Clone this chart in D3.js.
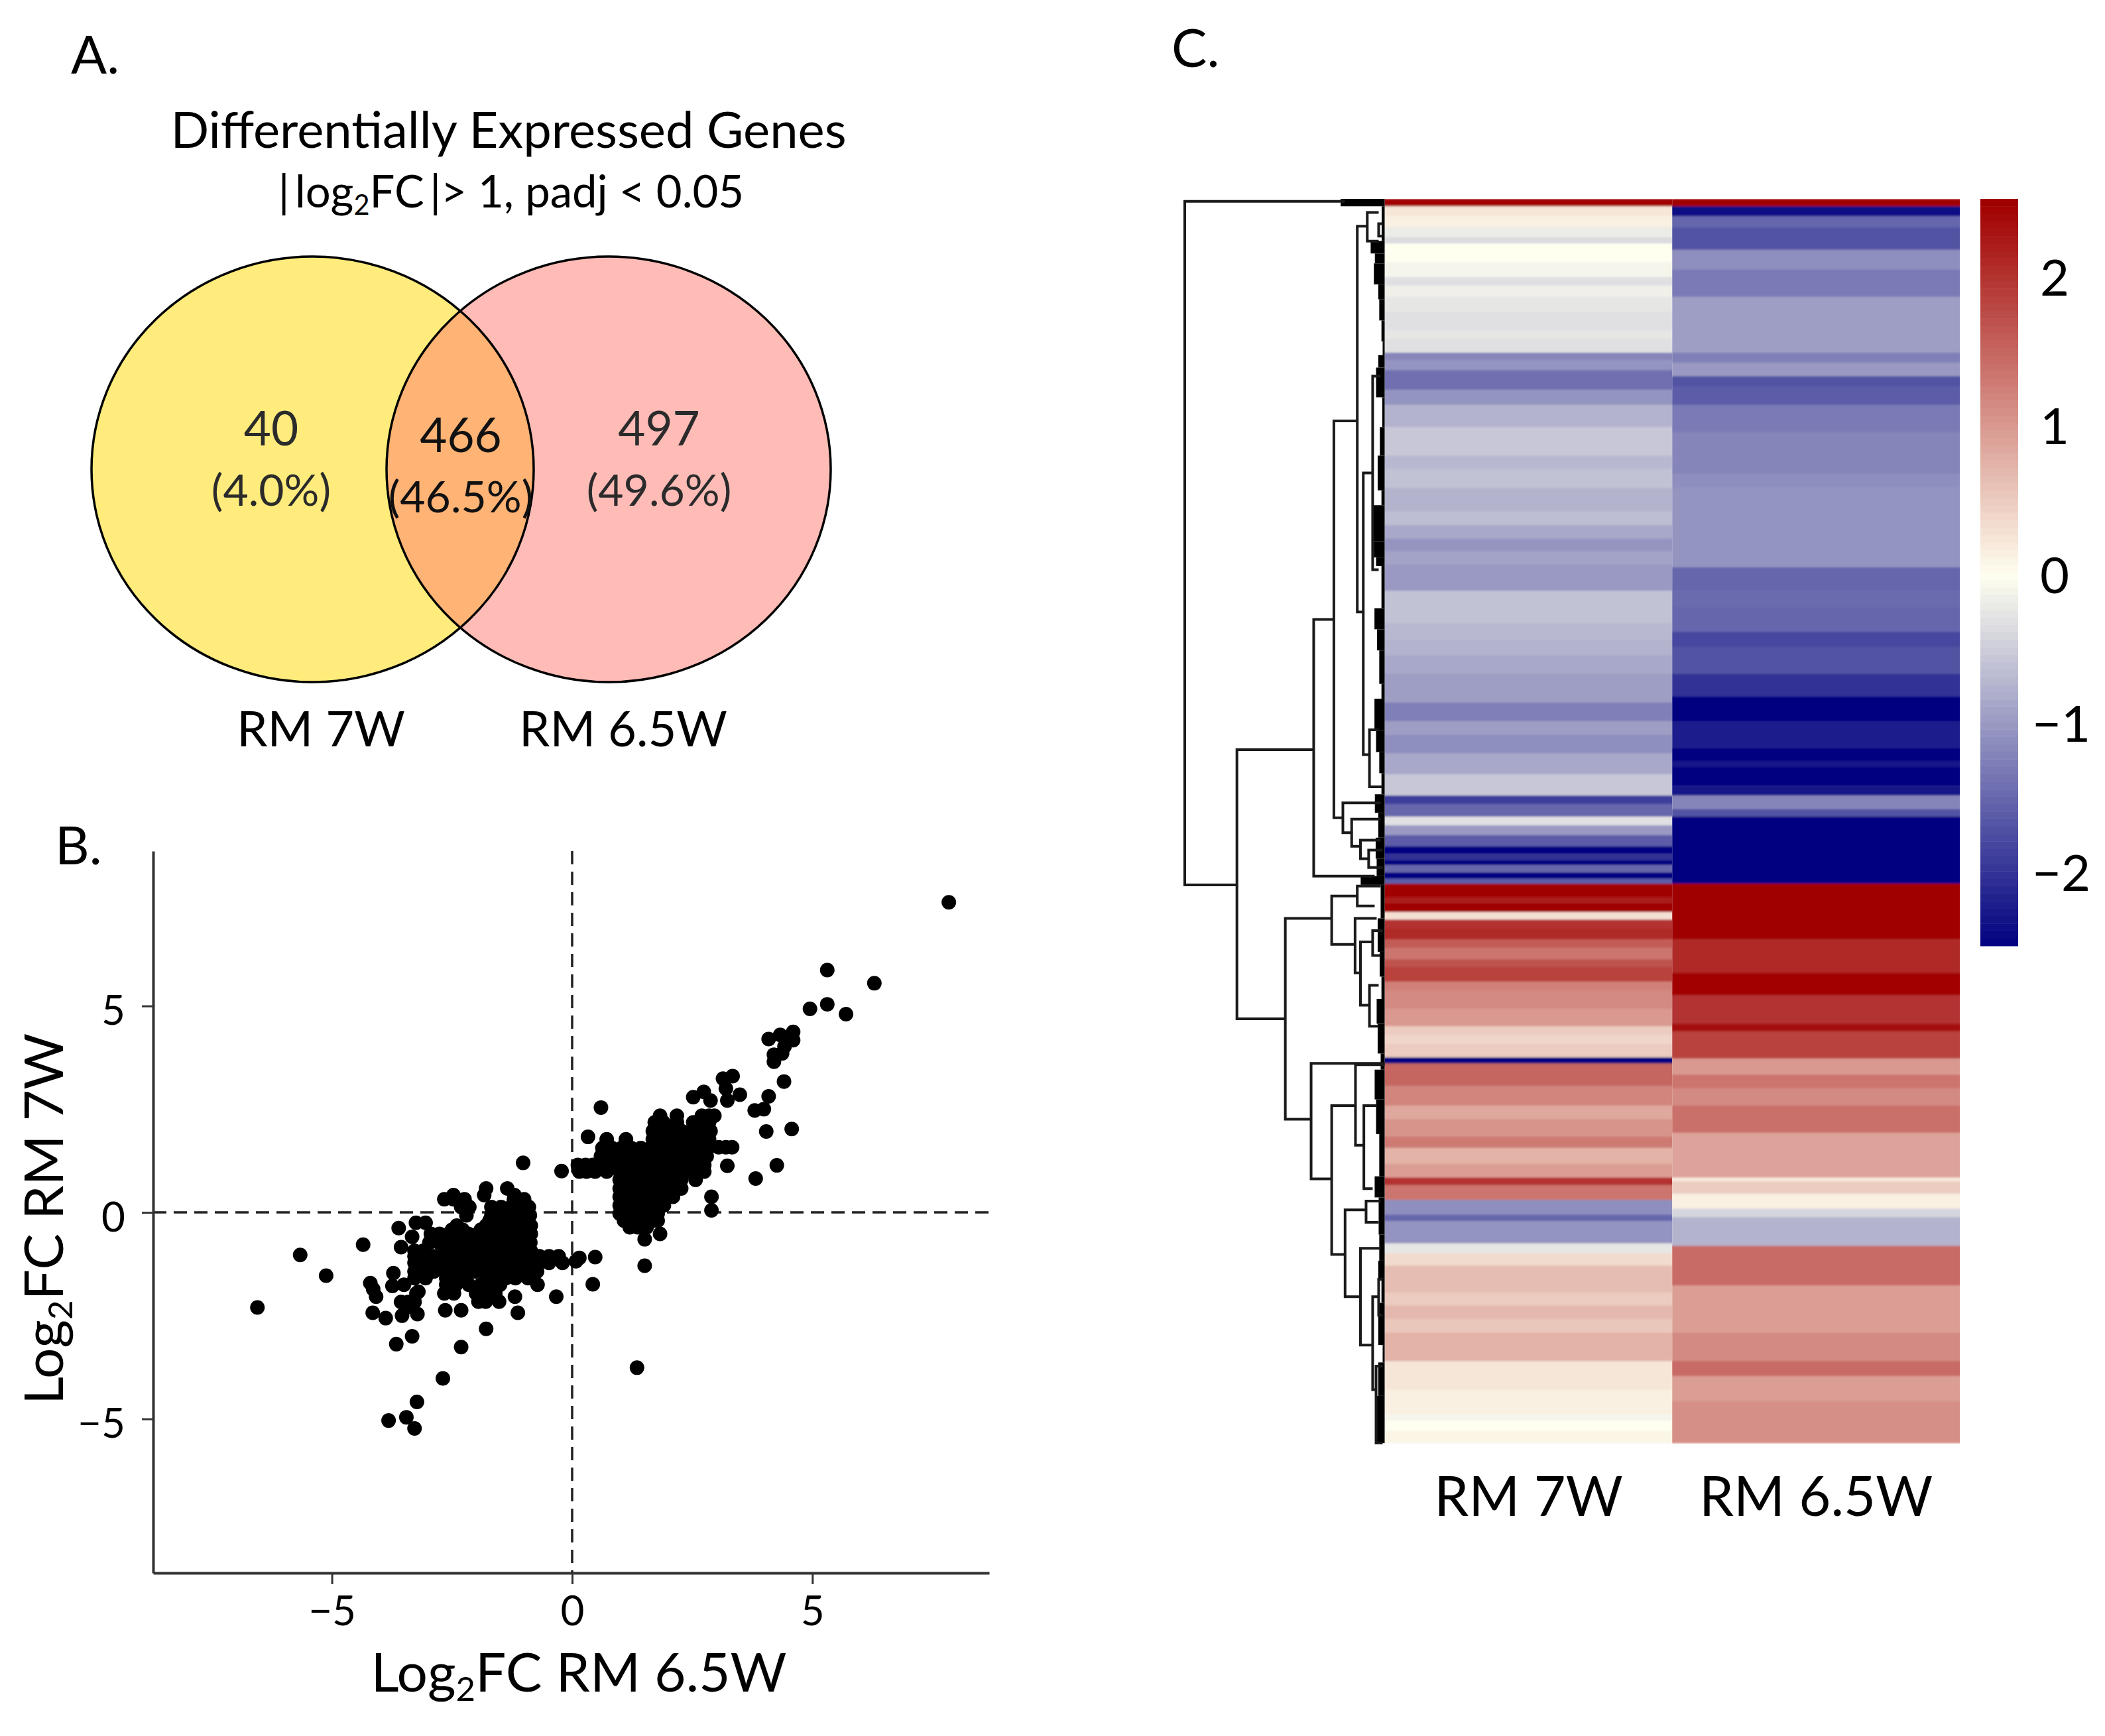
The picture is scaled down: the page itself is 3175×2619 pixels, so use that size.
<!DOCTYPE html>
<html>
<head>
<meta charset="utf-8">
<script src="https://d3js.org/d3.v7.min.js"></script>
<style>
  body { margin: 0; background: #fff; }
  text { font-family: Lato, "Open Sans", sans-serif; fill: #000; }
</style>
</head>
<body>
<div id="chart"></div>
<script>
// venn counts
const vennNames = ["RM 7W", "RM 6.5W"];
const vennCounts = ["40", "466", "497"];
const vennPercents = ["(4.0%)", "(46.5%)", "(49.6%)"];

// scatter: isolated points [log2FC 6.5W, log2FC 7W]
const scatterOutliers = [
  [-6.55,-2.3],[-5.66,-1.03],[-5.12,-1.53],[-4.35,-0.78],[-3.61,-0.38],[-3.33,-0.59],[-3.56,-0.84],
  [-3.25,-0.25],[-3.05,-0.25],[-3.72,-1.47],[-4.2,-1.71],[-4.14,-1.86],[-4.08,-2.04],[-4.15,-2.43],
  [-3.88,-2.56],[-3.74,-1.78],[-3.5,-1.75],[-3.56,-2.17],[-3.41,-2.17],[-3.24,-1.96],[-3.2,-1.92],
  [-3.54,-2.5],[-3.22,-2.46],[-3.38,-2.29],[-3.28,-2.17],[-2.64,-2.37],[-2.31,-2.37],[-1.79,-2.82],
  [-3.33,-3.0],[-3.66,-3.19],[-2.31,-3.26],[-2.69,-4.02],[-3.23,-4.59],[-3.45,-4.96],[-3.82,-5.04],
  [-3.28,-5.23],[-1.19,-2.04],[-1.13,-2.43],[-0.33,-2.04],[0.43,-1.74],[0.48,-1.08],[0.15,-1.1],
  [0.08,-1.18],[1.35,-3.76],[1.51,-1.29],[1.51,-0.65],[1.83,-0.52],[2.9,0.38],[2.9,0.05],[-1.02,1.2],
  [-0.22,1.0],[0.6,2.54],[0.33,1.83],[3.23,1.13],[3.05,1.58],[3.2,1.58],[3.33,1.58],[3.82,0.82],
  [4.26,1.14],[4.04,1.96],[4.57,2.02],[3.8,2.47],[3.99,2.5],[4.09,2.81],[4.41,3.17],[2.52,2.79],
  [2.74,2.92],[2.88,2.71],[3.23,2.71],[3.49,2.85],[3.14,3.24],[3.34,3.3],[3.2,3.0],[4.09,4.2],
  [4.33,4.3],[4.6,4.37],[4.6,4.17],[4.42,4.02],[4.2,3.82],[4.2,3.65],[4.37,3.85],[4.95,4.93],
  [5.31,5.04],[5.7,4.8],[5.31,5.87],[6.29,5.55],[7.84,7.51]
];

// scatter: dense up-regulated cluster, one row per y value
const upperClusterRows = [
  [2.34,[1.83,2.18,2.7,2.85,2.96]],
  [2.18,[1.72,1.9,2.18,2.52,2.7,2.85]],
  [1.97,[1.68,1.88,2.08,2.28,2.48,2.68,2.88]],
  [1.77,[0.72,1.12,1.68,1.88,2.08,2.28,2.48,2.68,2.85]],
  [1.56,[0.63,0.83,1.03,1.23,1.43,1.63,1.83,2.03,2.23,2.43,2.63,2.83]],
  [1.36,[0.6,0.8,1.0,1.2,1.4,1.6,1.8,2.0,2.2,2.4,2.6,2.8]],
  [1.15,[0.12,0.28,0.43,0.63,0.83,1.03,1.23,1.43,1.63,1.83,2.03,2.23,2.43,2.58,2.75]],
  [0.99,[0.15,0.3,0.48,0.72,0.99,1.19,1.39,1.59,1.79,1.99,2.19,2.47,2.75]],
  [0.79,[0.99,1.19,1.39,1.59,1.79,1.99,2.19,2.27,2.57]],
  [0.58,[0.99,1.19,1.39,1.59,1.79,1.99,2.19,2.27]],
  [0.38,[0.99,1.19,1.39,1.59,1.79,1.99,2.1]],
  [0.17,[0.99,1.19,1.39,1.59,1.79,1.91]],
  [-0.03,[0.99,1.19,1.39,1.59,1.78]],
  [-0.2,[1.08,1.28,1.48,1.68,1.78]],
  [-0.36,[1.2,1.36,1.55]]
];

// scatter: dense down-regulated cluster
const lowerClusterRows = [
  [0.58,[-1.79,-1.35]],
  [0.42,[-2.47,-1.83,-1.2]],
  [0.32,[-2.66,-2.47,-2.24,-1.21,-1.0]],
  [0.13,[-2.31,-2.14,-1.68,-1.48,-1.28,-1.08,-0.9]],
  [-0.07,[-2.2,-1.68,-1.48,-1.28,-1.08,-0.88]],
  [-0.2,[-1.72,-1.52,-1.32,-1.12,-0.92]],
  [-0.32,[-2.4,-1.79,-1.6,-1.4,-1.2,-1.0,-0.86]],
  [-0.42,[-2.5,-2.28,-1.9,-1.7,-1.5,-1.3,-1.1,-0.9]],
  [-0.52,[-2.94,-2.76,-2.56,-2.36,-2.16,-1.96,-1.76,-1.56,-1.36,-1.16,-0.96,-0.86]],
  [-0.73,[-2.97,-2.77,-2.57,-2.37,-2.17,-1.97,-1.77,-1.57,-1.37,-1.17,-0.97,-0.87]],
  [-0.93,[-3.28,-3.1,-2.66,-2.46,-2.26,-2.06,-1.86,-1.66,-1.46,-1.26,-1.06,-0.86]],
  [-1.06,[-3.28,-3.08,-2.88,-2.68,-2.48,-2.28,-2.08,-1.88,-1.68,-1.48,-1.28,-1.08,-0.88,-0.68,-0.48,-0.28]],
  [-1.22,[-3.28,-3.08,-2.88,-2.68,-2.48,-2.28,-2.08,-1.88,-1.68,-1.48,-1.28,-1.08,-0.88,-0.68,-0.48,-0.2]],
  [-1.43,[-3.28,-3.08,-2.88,-2.62,-2.42,-2.22,-2.02,-1.82,-1.62,-1.42,-1.22,-1.02,-0.82,-0.73]],
  [-1.59,[-3.28,-3.05,-2.62,-2.42,-2.22,-1.78,-1.58,-1.38,-1.18,-0.92]],
  [-1.75,[-2.62,-2.42,-2.15,-1.9,-1.7,-1.5,-0.72]],
  [-1.96,[-2.66,-2.46,-2.0,-1.8,-1.6]],
  [-2.16,[-1.95,-1.8,-1.52]]
];

const xTicks = [-5, 0, 5];
const yTicks = [-5, 0, 5];

// heatmap bands, gene index where each band ends + its value
const heatColumns = ["RM 7W", "RM 6.5W"];
const rm7wEnds = [6,14,23,31,36,51,63,70,79,91,106,113,124,130,138,154,166,184,207,218,233,252,263,274,284,295,316,342,355,368,383,406,421,432,447,464,481,488,498,505,513,522,528,533,537,543,548,552,563,568,575,581,588,597,604,613,619,631,638,653,667,674,681,692,697,715,731,742,756,765,778,789,795,807,819,824,842,850,860,882,892,903,914,926,937,960,980,985,993,1003];
const rm7wValues = [2.5,.25,.15,-.2,-.35,0,-.1,-.3,-.15,-.25,-.3,-.25,-.3,-1.2,-1.05,-1.4,-1.05,-.75,-.55,-.7,-.6,-.75,-.65,-.85,-1.05,-.9,-1.0,-.6,-.7,-.75,-.85,-.95,-1.25,-.95,-1.1,-.85,-.55,-1.9,-1.5,-.3,-1.0,-1.6,-2.5,-2.0,-2.5,-1.5,-2.5,-1.6,2.5,2.2,2.5,.3,2.0,2.1,1.6,1.35,1.7,1.85,1.25,1.15,1.0,.5,.4,.5,-2.5,1.5,1.2,.85,1.05,1.3,.75,.95,2.0,1.35,-1.1,-1.5,-1.05,-.25,.35,.65,.5,.7,.55,.75,.75,.25,.15,-.1,0,.1];
const rm65wEnds = [6,14,23,41,57,79,124,132,143,151,166,188,222,233,297,316,329,349,361,383,401,421,443,453,458,473,481,492,498,552,597,624,642,665,671,693,706,717,731,753,789,792,802,814,821,844,876,914,937,949,969,1003];
const rm65wValues = [2.5,-2.4,-1.5,-1.7,-1.1,-1.3,-.95,-1.25,-1.0,-1.7,-1.6,-1.3,-1.2,-1.1,-1.05,-1.5,-1.45,-1.5,-1.8,-1.7,-2.0,-2.5,-2.2,-2.5,-2.3,-2.5,-2.3,-1.2,-1.7,-2.5,2.5,2.1,2.45,2.0,2.4,1.85,1.0,1.35,1.15,1.4,.9,.2,.5,.15,-.4,-.75,1.45,.95,1.15,1.45,.95,1.1];
const colorbarTicks = [2, 1, 0, -1, -2];

// dendrogram merges: [height, top gene, top child height, bottom gene, bottom child height]
const dendroMerges = [
  [100,2,20,553,73.9],[73.9,444,35.5,661,49.7],[35.5,339,25.4,546,5],[25.4,179,13.7,499,20.9],
  [13.7,22,8.7,333,10.7],[8.7,11,3,34,3],[3,20,1,30,1],[10.7,221,6,448,7.6],[6,143,2,299,3],
  [7.6,428,3,474,1],[20.9,487,2,511,16.5],[16.5,500,2,522,12.1],[12.1,517,2,532,8],[8,525,1,539,1],
  [49.7,580,26.5,742,36.8],[26.5,562,13.7,601,14.8],[13.7,554,2,570,5],[14.8,580,4,624,12.1],
  [12.1,599,6,650,7.6],[6,590,1,610,2],[7.6,634,3,667,3],[36.8,697,0,790,26.5],[26.5,731,14.6,851,19.8],
  [14.6,698,0,763,10.4],[10.4,731,4,798,6],[19.8,815,9.3,885,12.1],[9.3,808,2,825,3],[12.1,846,2,924,6],
  [6,885,3,960,4.3],[4.3,941,1,1003,1],[3,871,1,900,1]
];

// black mass of tiny merges next to the heatmap: [start gene, end gene, height]
const dendroFringe = [
  [0,6,22],[6,34,1.5],[34,44,7],[44,52,4.9],[52,69,5.4],[69,81,3.2],[81,98,2.7],[98,115,1.6],[115,126,1],
  [126,136,3.2],[136,160,4.3],[160,184,1.2],[184,207,2.4],[207,235,3.5],[235,247,1.6],[247,276,6.2],
  [276,289,5.4],[289,296,4.3],[296,330,1.6],[330,347,5.1],[347,364,3.8],[364,391,2.7],[391,403,1.6],
  [403,429,5.1],[429,446,4.3],[446,463,2.7],[463,480,1.6],[480,495,4.9],[495,515,3.2],[515,532,4.5],
  [532,546,4],[546,553,12],[553,580,2],[580,607,3.5],[607,627,2.5],[627,645,1.6],[645,665,4],[665,689,3.5],
  [689,702,2],[702,726,5],[726,754,4.3],[754,788,2.7],[788,805,5],[805,835,3],[835,856,2.7],[856,870,3.2],
  [870,890,1.6],[890,924,3.2],[924,938,1],[938,965,3.2],[965,1003,3.8]
];

const svg = d3.select("#chart").append("svg")
  .attr("width", 3175)
  .attr("height", 2619)
  .style("display", "block");

function addText(txt, x, y, size, anchor) {
  return svg.append("text")
    .attr("x", x)
    .attr("y", y)
    .attr("font-size", size)
    .attr("text-anchor", anchor || "middle")
    .text(txt);
}

// text with a subscript 2, e.g. Log2FC
function addSubText(before, after, x, y, size, rotate) {
  const t = svg.append("text")
    .attr("text-anchor", "middle")
    .attr("font-size", size)
    .attr("transform", `translate(${x},${y}) rotate(${rotate || 0})`);
  t.append("tspan").text(before);
  t.append("tspan").attr("font-size", size * 0.62).attr("dy", size * 0.17).text("2");
  t.append("tspan").attr("dy", -size * 0.17).text(after);
  return t;
}

// panel letters
addText("A.", 107, 111, 80, "start");
addText("B.", 83, 1304, 80, "start");
addText("C.", 1767, 101, 80, "start");

// A. venn
addText("Differentially Expressed Genes", 767, 223, 76);
addSubText("|\u2009log", "FC\u2009|> 1, padj < 0.05", 771, 313, 67);

const vennLeft = { cx: 471.5, cy: 708, rx: 333.5, ry: 321 };
const vennRight = { cx: 918, cy: 708, rx: 335, ry: 321 };

const defs = svg.append("defs");
defs.append("clipPath").attr("id", "vennClip")
  .append("ellipse").attr("cx", vennRight.cx).attr("cy", vennRight.cy)
  .attr("rx", vennRight.rx).attr("ry", vennRight.ry);
// the reference is a slightly soft raster, stripes run into each other
defs.append("filter").attr("id", "soften")
  .attr("x", 0).attr("width", 1).attr("y", 0).attr("height", 1)
  .append("feGaussianBlur").attr("stdDeviation", "0 1.6");

function vennEllipse(v, fill) {
  return svg.append("ellipse")
    .attr("cx", v.cx).attr("cy", v.cy)
    .attr("rx", v.rx).attr("ry", v.ry)
    .attr("fill", fill);
}
vennEllipse(vennLeft, "#FFEC7C");
vennEllipse(vennRight, "#FFBCB7");
vennEllipse(vennLeft, "#FFB375").attr("clip-path", "url(#vennClip)");
vennEllipse(vennLeft, "none").attr("stroke", "#000").attr("stroke-width", 3.5);
vennEllipse(vennRight, "none").attr("stroke", "#000").attr("stroke-width", 3.5);

const vennTextX = [409, 695, 994];
const vennCountY = [672, 682, 672];
const vennPctY = [763, 773, 763];
vennCounts.forEach((c, i) => {
  addText(c, vennTextX[i], vennCountY[i], 71).style("fill", i === 1 ? "#111" : "#2b2b2b");
  addText(vennPercents[i], vennTextX[i], vennPctY[i], 66).style("fill", i === 1 ? "#111" : "#2b2b2b");
});
addText(vennNames[0], 484, 1126, 74);
addText(vennNames[1], 940, 1126, 74);

// B. scatter
const xScale = d3.scaleLinear().domain([-8.72, 8.68]).range([231, 1492]);
const yScale = d3.scaleLinear().domain([-8.73, 8.75]).range([2373, 1284]);

const toPoints = rows => rows.flatMap(r => r[1].map(x => [x, r[0]]));
const scatterPoints = scatterOutliers
  .concat(toPoints(upperClusterRows))
  .concat(toPoints(lowerClusterRows));

svg.append("line")
  .attr("x1", xScale(0)).attr("x2", xScale(0))
  .attr("y1", yScale.range()[1]).attr("y2", yScale.range()[0])
  .attr("stroke", "#222").attr("stroke-width", 3.5).attr("stroke-dasharray", "20 11");
svg.append("line")
  .attr("x1", xScale.range()[0]).attr("x2", xScale.range()[1])
  .attr("y1", yScale(0)).attr("y2", yScale(0))
  .attr("stroke", "#222").attr("stroke-width", 3.5).attr("stroke-dasharray", "20 11");

svg.append("g").selectAll("circle")
  .data(scatterPoints)
  .enter()
  .append("circle")
  .attr("cx", d => xScale(d[0]))
  .attr("cy", d => yScale(d[1]))
  .attr("r", 11)
  .attr("fill", "#000");

const fmtTick = d => d3.format("d")(d).replace("-", "\u2212");

const xAxis = svg.append("g")
  .attr("transform", "translate(0,2373)")
  .call(d3.axisBottom(xScale).tickValues(xTicks).tickFormat(fmtTick).tickSize(17).tickSizeOuter(0));
const yAxis = svg.append("g")
  .attr("transform", "translate(231,0)")
  .call(d3.axisLeft(yScale).tickValues(yTicks).tickFormat(fmtTick).tickSize(17).tickSizeOuter(0));

[xAxis, yAxis].forEach(a => {
  a.select(".domain").attr("stroke", "#333").attr("stroke-width", 4);
  a.selectAll(".tick line").attr("stroke", "#333").attr("stroke-width", 3);
  a.selectAll(".tick text").attr("font-size", 62).attr("font-family", null);
});
xAxis.selectAll(".tick text").attr("y", 79).attr("dy", 0);
yAxis.selectAll(".tick text").attr("x", -42).attr("dy", 28);

addSubText("Log", "FC RM 6.5W", 873, 2552, 82);
addSubText("Log", "FC RM 7W", 95, 1839, 82, -90);

// C. heatmap
const heatColor = d3.scaleLinear()
  .domain([-2.5, 0, 2.5])
  .range(["#000080", "#FFFFF0", "#A00000"])
  .clamp(true);

const geneScale = d3.scaleLinear().domain([0, 1003]).range([300, 2177]);
const columnScale = d3.scaleBand().domain(heatColumns).range([2088.5, 2956]);

function bandRows(ends, values) {
  return ends.map((end, i) => ({ start: i ? ends[i - 1] : 0, end: end, value: values[i] }));
}

const heatData = [
  { name: heatColumns[0], rows: bandRows(rm7wEnds, rm7wValues) },
  { name: heatColumns[1], rows: bandRows(rm65wEnds, rm65wValues) }
];

heatData.forEach(col => {
  svg.append("g")
    .attr("filter", "url(#soften)")
    .selectAll("rect")
    .data(col.rows)
    .enter()
    .append("rect")
    .attr("x", columnScale(col.name))
    .attr("width", columnScale.bandwidth())
    .attr("y", d => geneScale(d.start))
    .attr("height", d => geneScale(d.end) - geneScale(d.start) + 0.5)
    .attr("fill", d => heatColor(d.value));
  addText(col.name, columnScale(col.name) + columnScale.bandwidth() / 2, 2287, 83);
});

// dendrogram
const dendroX = d3.scaleLinear().domain([0, 100]).range([2088.5, 1787]);

svg.append("g").selectAll("rect")
  .data(dendroFringe)
  .enter()
  .append("rect")
  .attr("x", d => dendroX(d[2]))
  .attr("width", d => dendroX(0) - dendroX(d[2]))
  .attr("y", d => geneScale(d[0]))
  .attr("height", d => geneScale(d[1]) - geneScale(d[0]))
  .attr("fill", "#000");

svg.append("g").selectAll("path")
  .data(dendroMerges)
  .enter()
  .append("path")
  .attr("fill", "none")
  .attr("stroke", "#1a1a1a")
  .attr("stroke-width", 4)
  .attr("d", d => d3.line()([
    [dendroX(d[2]), geneScale(d[1])],
    [dendroX(d[0]), geneScale(d[1])],
    [dendroX(d[0]), geneScale(d[3])],
    [dendroX(d[4]), geneScale(d[3])]
  ]));

// colour bar
const colorbarScale = d3.scaleLinear().domain([-2.49, 2.53]).range([1427, 300]);
const colorbarStep = (2.53 + 2.49) / 100;
const colorbarCells = d3.range(100).map(i => -2.49 + i * colorbarStep);

svg.append("g").selectAll("rect")
  .data(colorbarCells)
  .enter()
  .append("rect")
  .attr("x", 2987)
  .attr("width", 57)
  .attr("y", d => colorbarScale(d + colorbarStep))
  .attr("height", d => colorbarScale(d) - colorbarScale(d + colorbarStep) + 0.5)
  .attr("fill", d => heatColor(d + colorbarStep / 2));

colorbarTicks.forEach(t => {
  addText(fmtTick(t), t < 0 ? 3109 : 3099, colorbarScale(t) + 27, 76);
});
</script>
</body>
</html>
